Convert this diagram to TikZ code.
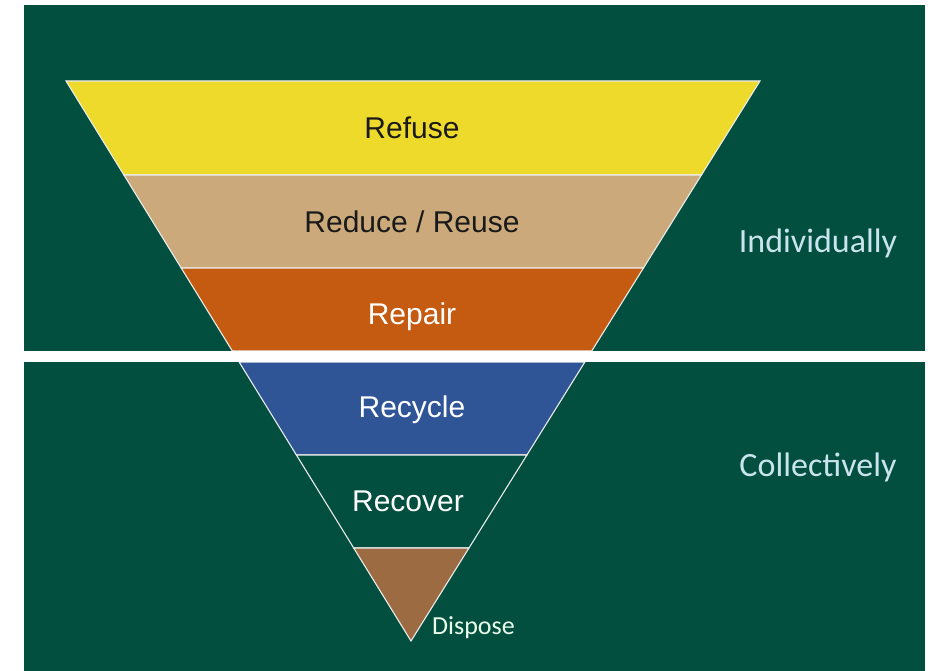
\documentclass[tikz,border=0pt]{standalone}
\usepackage{fontspec}
\setmainfont{Liberation Sans}
\newfontfamily\calibri{Carlito}
\usetikzlibrary{calc}
\definecolor{bggreen}{HTML}{024F3F}
\definecolor{refuseY}{HTML}{EEDA2A}
\definecolor{reduceT}{HTML}{CBA97B}
\definecolor{repairO}{HTML}{C55A11}
\definecolor{recycleB}{HTML}{2F5597}
\definecolor{disposeB}{HTML}{9C6B41}
\definecolor{sidetxt}{HTML}{CAE4EE}
\definecolor{darktxt}{HTML}{1A1A1A}
\tikzset{
  layer/.style={draw=white!85!gray, line width=1.1pt, line join=miter},
  lbl/.style={font=\fontsize{30}{34}\selectfont, inner sep=0pt},
  side/.style={font=\calibri\fontsize{34}{38}\selectfont, text=sidetxt, inner sep=0pt},
}
\begin{document}
\begin{tikzpicture}[x=1pt,y=-1pt]
\useasboundingbox (0,0) rectangle (935,671);
\fill[bggreen] (24,5) rectangle (925,671);
\coordinate (TL) at (66,81);
\coordinate (TR) at (760,81);
\coordinate (A) at (411,641);
% boundaries
\foreach \n/\t in {a/0.1679, b/0.3339, c/0.4821, d/0.5018, e/0.6679, f/0.8339}{
  \coordinate (L\n) at ($(TL)!\t!(A)$);
  \coordinate (R\n) at ($(TR)!\t!(A)$);
}
\filldraw[layer, fill=refuseY] (TL) -- (TR) -- (Ra) -- (La) -- cycle;
\filldraw[layer, fill=reduceT] (La) -- (Ra) -- (Rb) -- (Lb) -- cycle;
\filldraw[layer, fill=repairO] (Lb) -- (Rb) -- (Rc) -- (Lc) -- cycle;
\filldraw[layer, fill=recycleB] (Ld) -- (Rd) -- (Re) -- (Le) -- cycle;
\filldraw[layer, fill=bggreen] (Le) -- (Re) -- (Rf) -- (Lf) -- cycle;
\filldraw[layer, fill=disposeB] (Lf) -- (Rf) -- (A) -- cycle;
% white band
\fill[white] (24,351) rectangle (925,362);
% labels
\node[lbl, text=darktxt] (refuse) at (412,128) {Refuse};
\node[lbl, text=darktxt] (reduce) at (412,222) {Reduce / Reuse};
\node[lbl, text=white] (repair) at (412,317) {Repair};
\node[lbl, text=white] (recycle) at (412,410) {Recycle};
\node[lbl, text=white] (recover) at (408,501) {Recover};
\node[font=\calibri\fontsize{26}{29}\selectfont, text=white!92!green, inner sep=0pt, anchor=west] (dispose) at (432,628) {Dispose};
\node[side] (indiv) at (818,243) {Individually};
\node[side] (coll) at (818,467) {Collectively};
\end{tikzpicture}
\end{document}
